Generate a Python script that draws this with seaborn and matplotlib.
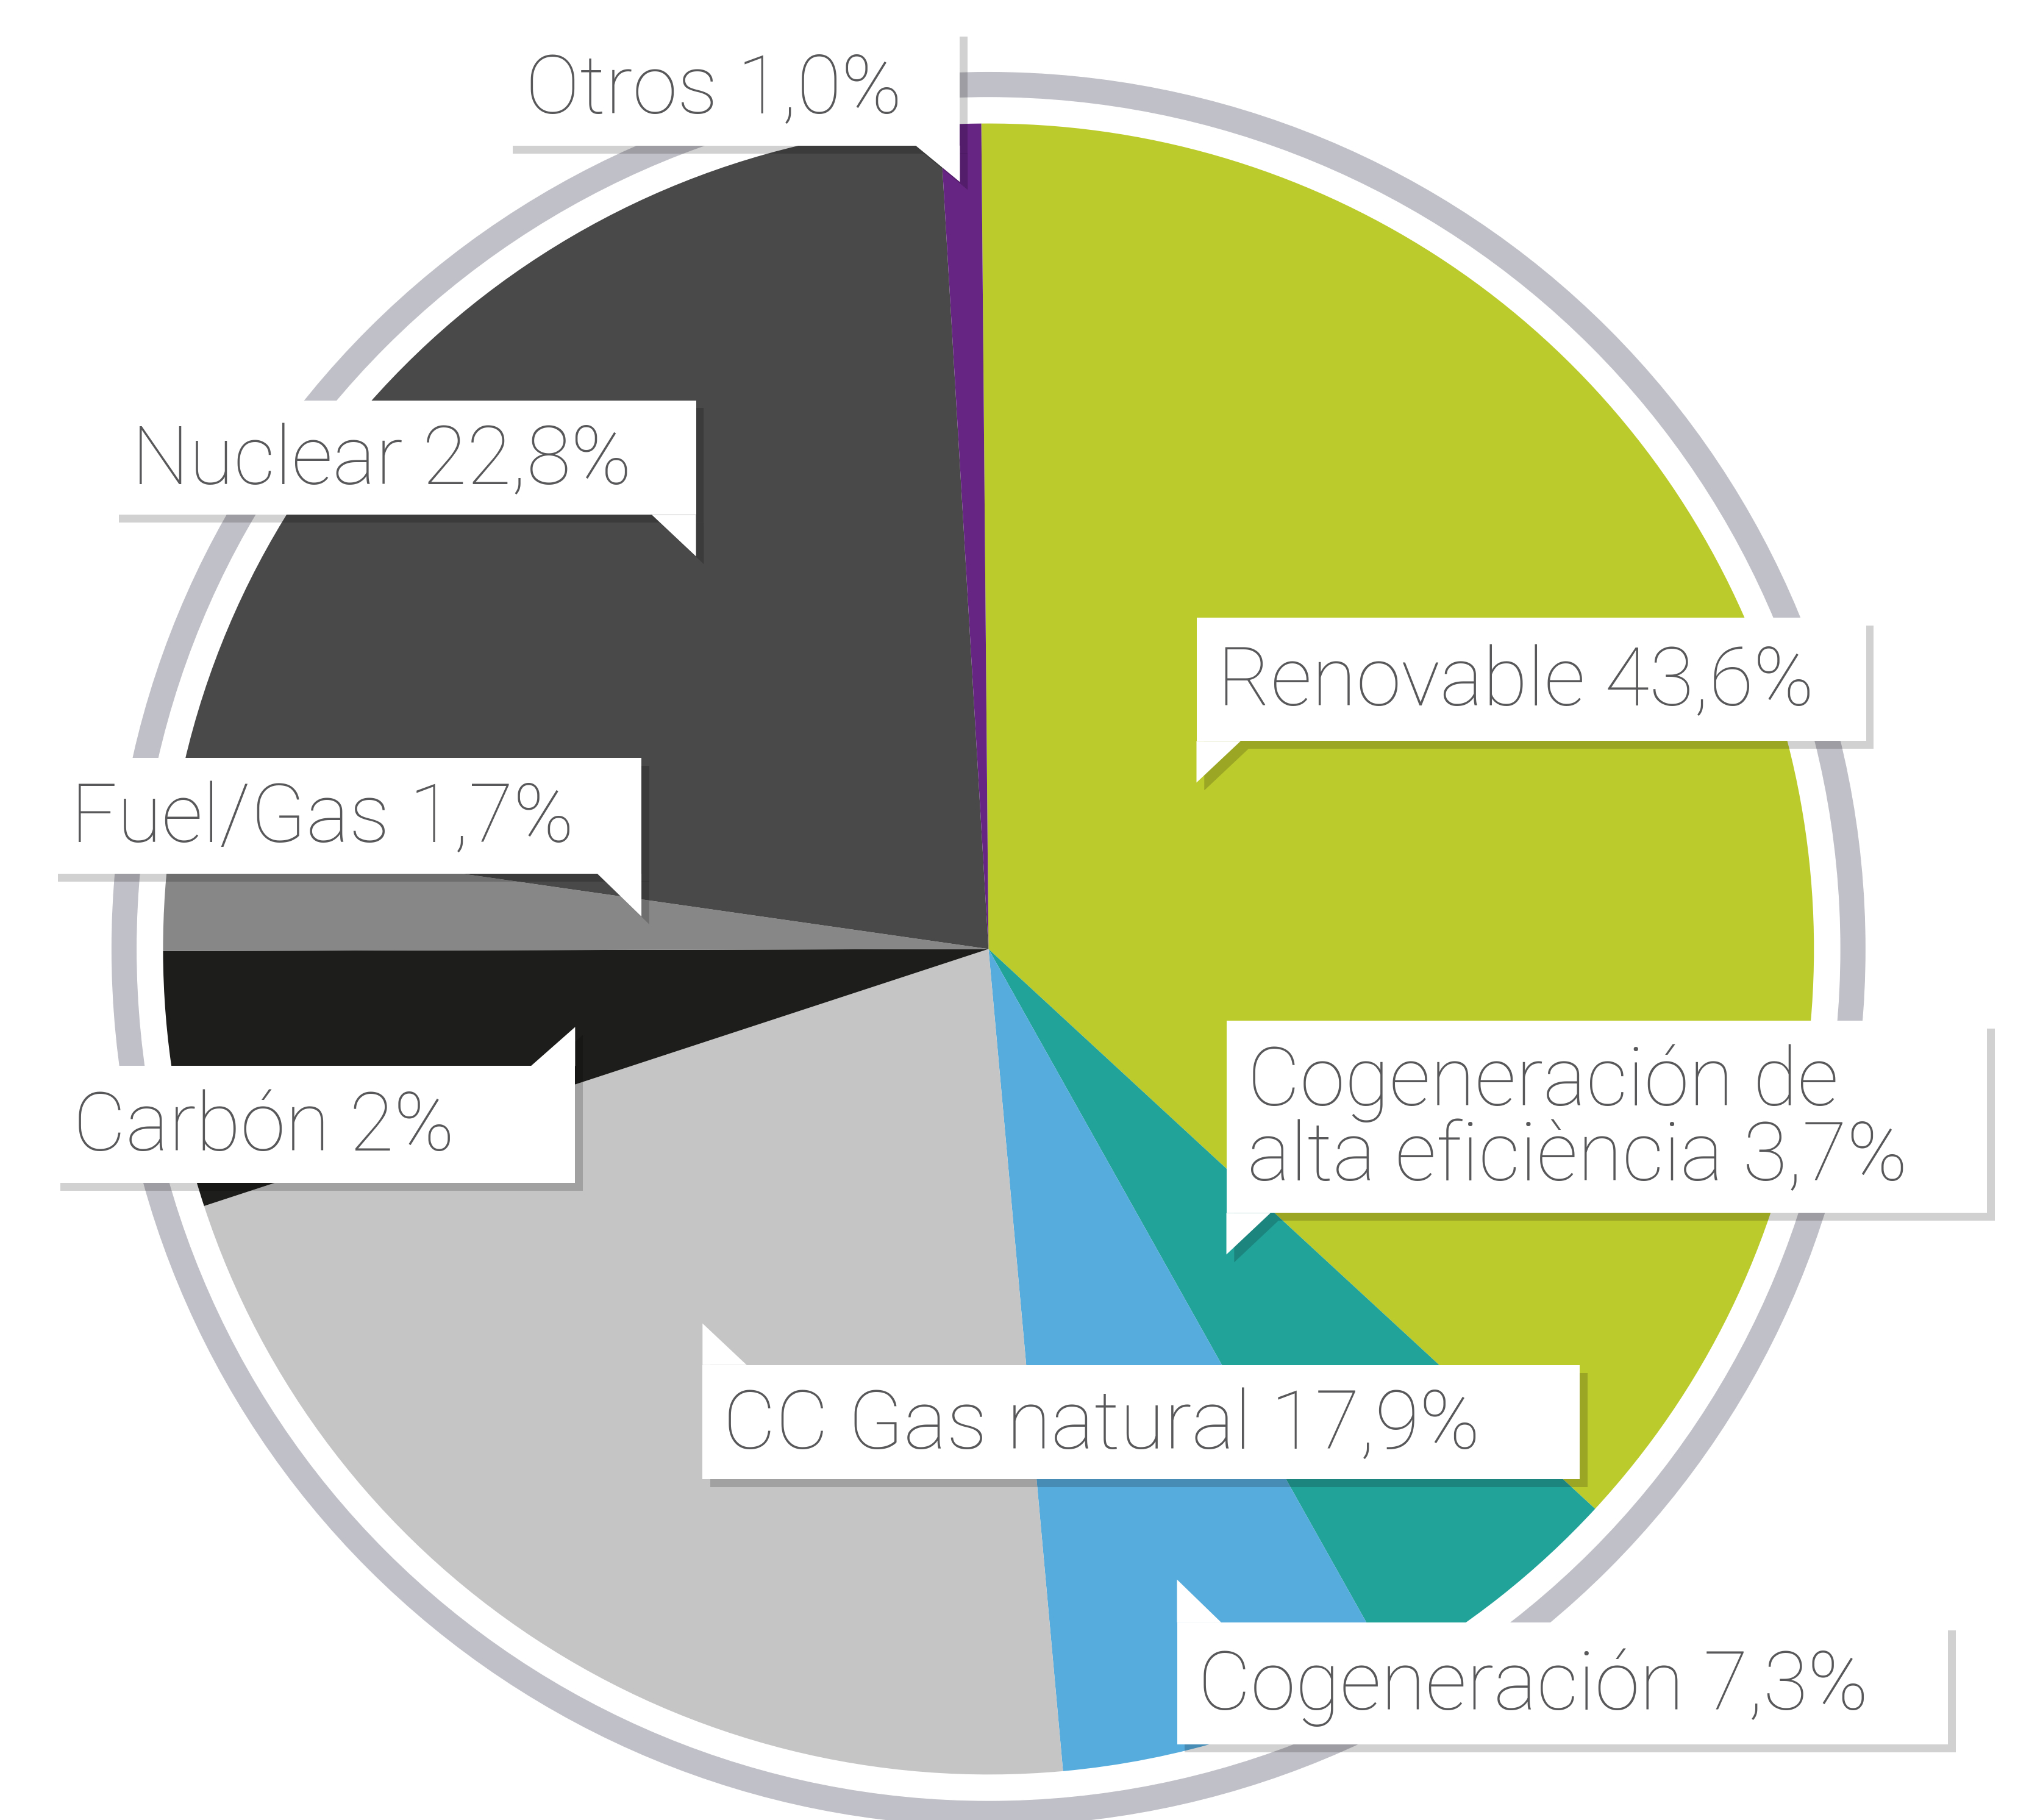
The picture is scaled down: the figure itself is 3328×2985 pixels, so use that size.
import matplotlib
matplotlib.use("Agg")
import matplotlib.pyplot as plt
import seaborn as sns
from matplotlib.patches import Circle, Rectangle, Polygon

sns.set_style("white")
plt.rcParams['font.family'] = ['Roboto', 'DejaVu Sans']

# wedge shares as drawn in the picture (clockwise from top)
sources = ['Renovable', 'Cogeneración alta eficiencia', 'Cogeneración', 'CC Gas natural',
           'Carbón', 'Fuel/Gas', 'Nuclear', 'Otros']
shares = [37.0, 5.0, 6.7, 21.4, 5.0, 2.3, 21.8, 0.8]
labels = ['Renovable 43,6%', 'Cogeneración de\nalta eficiència 3,7%', 'Cogeneración 7,3%',
          'CC Gas natural 17,9%', 'Carbón 2%', 'Fuel/Gas 1,7%', 'Nuclear 22,8%', 'Otros 1,0%']
colors = ['#bccb2c', '#21a39a', '#56acdc', '#c5c5c5', '#1d1d1b', '#878787', '#494949', '#662483']

W, H = 1560, 1400
fig = plt.figure(figsize=(33.28, 29.85), dpi=100)
ax = fig.add_axes([0, 0, 1, 1])
ax.set_xlim(0, W)
ax.set_ylim(0, H)
ax.set_aspect('equal')
ax.axis('off')

def Y(y):
    return H - y

cx, cy = 760, Y(730)
ax.add_patch(Circle((cx, cy), 675, fc='#c0c0c8', zorder=0))
ax.add_patch(Circle((cx, cy), 655, fc='white', zorder=0))
ax.pie(shares, colors=colors, startangle=90.5, counterclock=False,
       center=(cx, cy), radius=635, frame=True,
       wedgeprops=dict(linewidth=0))
ax.set_xlim(0, W)
ax.set_ylim(0, H)
ax.axis('off')

# label boxes: (x0, y0, x1, y1, pointer corner, pointer tip y)
boxes = [
    (920, 475, 1435, 570, 'bl', 602),
    (943, 785, 1528, 933, 'bl', 965),
    (905, 1248, 1498, 1342, 'tl', 1215),
    (540, 1050, 1215, 1138, 'tl', 1018),
    (40, 820, 442, 910, 'tr', 790),
    (38, 583, 493, 672, 'br', 705),
    (85, 308, 535, 396, 'br', 428),
    (388, 22, 738, 112, 'br', 140),
]
for (x0, y0, x1, y1, corner, tip), lab in zip(boxes, labels):
    s = 6
    if corner == 'bl':
        tri = [(x0, y1), (x0 + 34, y1), (x0, tip)]
    elif corner == 'br':
        tri = [(x1, y1), (x1 - 34, y1), (x1, tip)]
    elif corner == 'tl':
        tri = [(x0, y0), (x0 + 34, y0), (x0, tip)]
    else:
        tri = [(x1, y0), (x1 - 34, y0), (x1, tip)]
    # shadow
    ax.add_patch(Rectangle((x0 + s, Y(y1) - s), x1 - x0, y1 - y0, fc='black', alpha=0.18, lw=0, zorder=4))
    ax.add_patch(Polygon([(x + s, Y(y) - s) for x, y in tri], fc='black', alpha=0.18, lw=0, zorder=4))
    ax.add_patch(Rectangle((x0, Y(y1)), x1 - x0, y1 - y0, fc='white', lw=0, zorder=5))
    ax.add_patch(Polygon([(x, Y(y)) for x, y in tri], fc='white', lw=0, zorder=5))
    ax.text(x0 + 16, Y((y0 + y1) / 2 + 3), lab, ha='left', va='center', fontsize=96,
            fontweight='light', color='#58585a', linespacing=0.95, zorder=6)

fig.savefig('out.png', dpi=100)
